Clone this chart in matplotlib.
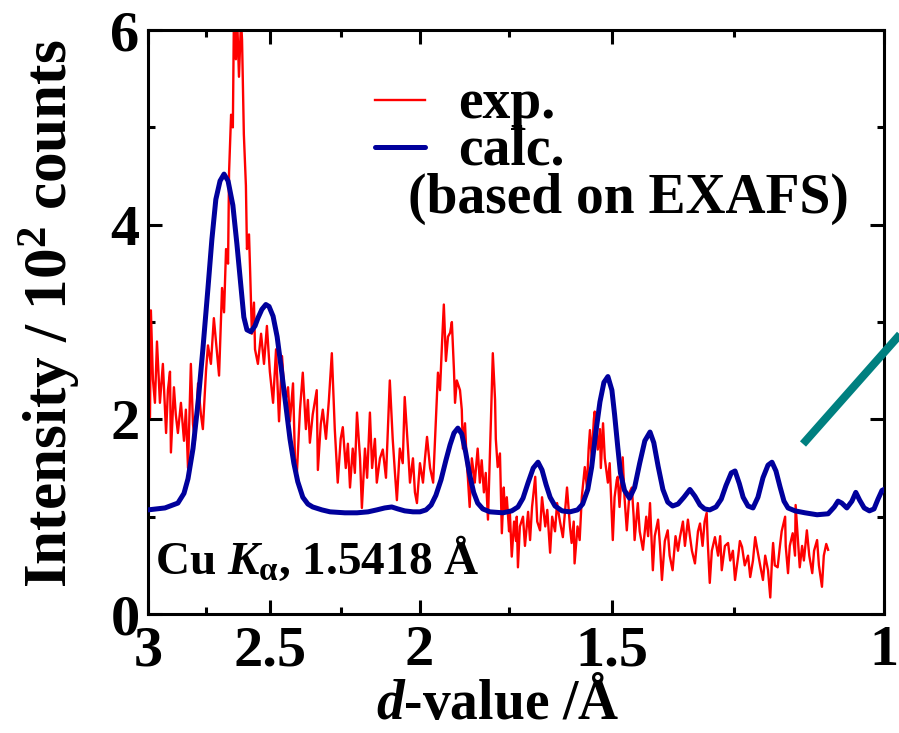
import matplotlib
matplotlib.use('Agg')
import matplotlib.pyplot as plt
from matplotlib.lines import Line2D
from matplotlib.ticker import FixedLocator, FixedFormatter, NullFormatter

# measured powder pattern, d / A vs intensity / 10^2 counts
exp_d = [
    3.000, 2.991, 2.987, 2.978, 2.969, 2.960, 2.947, 2.934, 2.920, 2.912,
    2.903, 2.899, 2.886, 2.878, 2.869, 2.856, 2.843, 2.835, 2.826, 2.814,
    2.805, 2.797, 2.784, 2.772, 2.764, 2.751, 2.743, 2.731, 2.719, 2.707,
    2.698, 2.686, 2.678, 2.670, 2.662, 2.658, 2.650, 2.643, 2.639, 2.631,
    2.627, 2.619, 2.611, 2.607, 2.600, 2.592, 2.588, 2.580, 2.576, 2.569,
    2.561, 2.557, 2.546, 2.534, 2.523, 2.512, 2.501, 2.489, 2.478, 2.467,
    2.456, 2.445, 2.434, 2.427,
    2.416, 2.409, 2.402, 2.391, 2.381, 2.370, 2.363, 2.356, 2.346, 2.332,
    2.328, 2.318, 2.311, 2.300, 2.290, 2.280, 2.270, 2.260, 2.250, 2.243,
    2.233, 2.226, 2.219, 2.210, 2.203, 2.196, 2.186, 2.180, 2.170, 2.163,
    2.154, 2.147, 2.138, 2.132, 2.122, 2.113, 2.103, 2.097, 2.091, 2.082,
    2.075, 2.069, 2.060, 2.051, 2.045, 2.035, 2.029, 2.020, 2.014, 2.008,
    1.999, 1.990, 1.984, 1.978, 1.969, 1.960, 1.955, 1.952, 1.946, 1.940,
    1.934, 1.929, 1.923, 1.917, 1.911, 1.906, 1.900, 1.897, 1.892, 1.883,
    1.878, 1.875, 1.869, 1.864, 1.861, 1.856, 1.850, 1.845, 1.842, 1.834,
    1.828, 1.823, 1.817, 1.812, 1.806, 1.801, 1.798, 1.795, 1.793, 1.787,
    1.785, 1.780, 1.774, 1.769, 1.764, 1.761, 1.756, 1.750, 1.748, 1.743,
    1.737, 1.732, 1.730, 1.727, 1.722, 1.714, 1.709, 1.701, 1.696, 1.691,
    1.683, 1.678, 1.671, 1.666, 1.658, 1.653, 1.646, 1.641, 1.634, 1.629,
    1.622, 1.615, 1.610, 1.605, 1.598, 1.594, 1.589, 1.587, 1.580, 1.575,
    1.570, 1.563, 1.558, 1.554, 1.551, 1.547, 1.542, 1.540, 1.535, 1.533,
    1.528, 1.526, 1.521, 1.517, 1.510, 1.506, 1.503, 1.499, 1.495, 1.490,
    1.488, 1.484, 1.477, 1.473, 1.468, 1.462, 1.457, 1.453, 1.451, 1.444,
    1.440, 1.433, 1.426, 1.422, 1.418, 1.412, 1.408, 1.401, 1.397, 1.393,
    1.387, 1.381, 1.377, 1.371, 1.365, 1.360, 1.356, 1.350, 1.346, 1.340,
    1.336, 1.332, 1.326, 1.320, 1.316, 1.311, 1.307, 1.303, 1.301, 1.297,
    1.293, 1.287, 1.281, 1.277, 1.274, 1.268, 1.262, 1.258, 1.253, 1.249,
    1.243, 1.240, 1.236, 1.231, 1.225, 1.221, 1.216, 1.212,
    1.209, 1.203, 1.198, 1.194, 1.189, 1.185, 1.182, 1.180, 1.177, 1.172,
    1.168, 1.165, 1.159, 1.158, 1.154, 1.151, 1.146, 1.142, 1.141, 1.137,
    1.134, 1.130, 1.127, 1.122, 1.118, 1.113, 1.110, 1.105, 1.102, 1.097,
    1.094, 1.090, 1.087,
]
exp_int = [
    3.38, 2.02, 3.12, 2.41, 2.17, 2.80, 2.17, 2.57, 1.86, 2.30,
    2.49, 1.66, 2.33, 2.05, 1.86, 2.17, 1.78, 2.10, 1.50, 2.57,
    1.95, 1.78, 2.37, 2.05, 1.90, 2.50, 2.76, 2.57, 3.04, 2.70,
    2.45, 3.35, 3.10, 3.75, 3.60, 4.54, 5.13, 5.00, 6.10, 5.70,
    6.20, 5.52, 6.10, 5.90, 4.93, 4.40, 3.75, 3.90, 3.55, 2.88,
    3.20, 2.72, 2.57, 2.88, 2.57, 2.96, 2.49, 2.17, 2.72, 1.98,
    2.65, 2.17, 2.33, 1.98,
    2.37, 1.60, 1.45, 2.10, 2.48, 1.90, 2.20, 1.76, 2.05, 2.30,
    1.48, 1.95, 2.10, 1.80, 2.20, 2.68, 1.90, 1.35, 1.80, 1.92,
    1.50, 1.75, 1.30, 1.70, 1.45, 2.07, 1.60, 1.09, 1.70, 1.40,
    2.07, 1.50, 1.80, 1.35, 1.60, 1.69, 1.40, 1.90, 2.40, 1.80,
    1.45, 1.17, 1.70, 1.55, 2.23, 1.70, 1.35, 1.60, 1.25, 1.14,
    1.55, 1.35, 1.60, 1.82, 1.50, 1.35, 1.75, 2.00, 2.48, 2.30,
    2.80, 3.18, 2.60, 2.85, 2.89, 3.00, 2.50, 2.17, 2.40, 2.30,
    2.10, 1.70, 1.96, 1.55, 1.40, 1.10, 1.60, 1.45, 1.35, 1.70,
    1.35, 1.58, 1.25, 1.45, 0.97, 1.60, 2.00, 2.40, 2.68, 2.20,
    1.80, 1.51, 1.65, 0.83, 1.30, 1.05, 1.20, 0.85, 1.05, 0.59,
    0.95, 0.75, 1.00, 0.48, 0.90, 1.00, 0.70, 1.05, 0.76, 1.10,
    1.41, 0.95, 0.86, 1.20, 0.90, 1.07, 0.63, 1.00, 0.85, 1.14,
    0.95, 0.79, 1.05, 1.30, 0.90, 0.73, 0.95, 0.52, 0.90, 0.76,
    1.20, 1.51, 1.30, 1.70, 1.89, 1.60, 2.00, 2.08, 1.80, 1.69,
    1.90, 1.50, 1.96, 1.60, 1.35, 1.55, 1.20, 0.76, 1.20, 1.38,
    1.41, 1.10, 1.61, 1.20, 0.86, 1.25, 1.30, 1.00, 0.76, 1.14,
    0.85, 0.66, 1.00, 0.80, 1.14, 0.45, 0.80, 0.97, 0.70, 0.35,
    0.75, 0.86, 0.60, 0.45, 0.80, 0.65, 0.79, 0.95, 0.70, 0.97,
    0.80, 0.65, 0.52, 0.85, 0.93, 0.70, 0.95, 1.04, 0.75, 0.32,
    0.65, 0.79, 0.60, 0.80, 0.45, 0.70, 0.73, 0.55, 0.65, 0.35,
    0.60, 0.75, 0.69, 0.50, 0.60, 0.38, 0.55, 0.79,
    0.69, 0.50, 0.35, 0.60, 0.45, 0.17, 0.55, 0.73, 0.50, 0.48,
    0.70, 0.85, 1.00, 0.70, 0.42, 0.70, 0.83, 0.60, 1.12, 0.75,
    0.48, 0.70, 0.55, 0.86, 0.60, 0.42, 0.65, 0.76, 0.50, 0.28,
    0.60, 0.72, 0.66,
]

# pattern calculated from the EXAFS structure model
calc_d = [
    3.000, 2.925, 2.869, 2.843, 2.826, 2.805, 2.784, 2.764, 2.743, 2.727,
    2.711, 2.694, 2.678, 2.662, 2.643, 2.627, 2.611, 2.600, 2.588, 2.573,
    2.557, 2.546, 2.531, 2.516, 2.504, 2.489, 2.474, 2.460, 2.441, 2.427,
    2.413, 2.399, 2.381, 2.363, 2.346, 2.314, 2.286, 2.236, 2.196, 2.160,
    2.132, 2.107, 2.085, 2.066, 2.045, 2.020, 1.999, 1.981, 1.966, 1.952,
    1.937, 1.923, 1.911, 1.900, 1.889, 1.878, 1.867, 1.856, 1.845, 1.834,
    1.820, 1.801, 1.766, 1.743, 1.727, 1.714, 1.701, 1.688, 1.676, 1.666,
    1.656, 1.646, 1.634, 1.617, 1.598, 1.580, 1.568, 1.556, 1.547, 1.538,
    1.528, 1.519, 1.510, 1.501, 1.495, 1.488, 1.482, 1.473, 1.462, 1.451,
    1.440, 1.429, 1.418, 1.410, 1.401, 1.391, 1.381, 1.371, 1.360, 1.348,
    1.336, 1.326, 1.316, 1.307, 1.297, 1.285, 1.275, 1.266, 1.256, 1.249,
    1.241, 1.234, 1.225, 1.216, 1.207, 1.198, 1.189, 1.182, 1.175, 1.168,
    1.161, 1.154, 1.142, 1.125, 1.105, 1.087, 1.077, 1.071, 1.065, 1.057,
    1.049, 1.043, 1.037, 1.030, 1.022, 1.015, 1.009, 1.003, 1.000,
]
calc_int = [
    1.07, 1.09, 1.14, 1.24, 1.39, 1.70, 2.17, 2.72, 3.35, 3.85,
    4.26, 4.45, 4.52, 4.45, 4.20, 3.80, 3.35, 3.05, 2.92, 2.90,
    2.96, 3.04, 3.13, 3.18, 3.16, 3.06, 2.85, 2.55, 2.12, 1.80,
    1.55, 1.36, 1.20, 1.13, 1.10, 1.07, 1.05, 1.04, 1.04, 1.05,
    1.07, 1.09, 1.10, 1.08, 1.06, 1.05, 1.05, 1.07, 1.12, 1.22,
    1.38, 1.58, 1.74, 1.86, 1.91, 1.85, 1.66, 1.43, 1.25, 1.14,
    1.08, 1.05, 1.04, 1.06, 1.10, 1.19, 1.35, 1.50, 1.56, 1.48,
    1.33, 1.20, 1.11, 1.06, 1.05, 1.07, 1.13, 1.28, 1.51, 1.85,
    2.18, 2.38, 2.44, 2.30, 2.05, 1.72, 1.45, 1.27, 1.19, 1.30,
    1.55, 1.78, 1.87, 1.76, 1.52, 1.28, 1.15, 1.11, 1.13, 1.20,
    1.28, 1.21, 1.12, 1.08, 1.07, 1.10, 1.18, 1.32, 1.45, 1.47,
    1.34, 1.20, 1.11, 1.09, 1.20, 1.40, 1.53, 1.56, 1.47, 1.31,
    1.16, 1.09, 1.06, 1.04, 1.02, 1.03, 1.10, 1.16, 1.14, 1.09,
    1.16, 1.25, 1.17, 1.09, 1.06, 1.08, 1.18, 1.27, 1.28,
]

d_major = [3, 2.5, 2, 1.5, 1]
d_major_labels = ['3', '2.5', '2', '1.5', '1']
d_minor = [2.75, 2.25, 1.75, 1.25]
int_major = [0, 2, 4, 6]
int_minor = [1, 3, 5]


def setup_fonts():
    plt.rcParams['font.family'] = ['Liberation Serif', 'DejaVu Serif']
    plt.rcParams['font.weight'] = 'bold'
    plt.rcParams['axes.labelweight'] = 'bold'
    plt.rcParams['mathtext.fontset'] = 'custom'
    plt.rcParams['mathtext.rm'] = 'Liberation Serif:bold'
    plt.rcParams['mathtext.it'] = 'Liberation Serif:italic:bold'
    plt.rcParams['mathtext.bf'] = 'Liberation Serif:bold'


def draw():
    assert len(exp_d) == len(exp_int)
    assert len(calc_d) == len(calc_int)

    fig = plt.figure(figsize=(8.99, 7.33), dpi=100)
    ax = fig.add_axes([0.1646, 0.1623, 0.8187, 0.7967])

    ax.plot(exp_d, exp_int, color='#ff0000', linewidth=1.7, zorder=2)
    ax.plot(calc_d, calc_int, color='#00009c', linewidth=3.6,
            solid_joinstyle='round', zorder=3)

    # d axis runs from 3 down to 1 on a log scale
    ax.set_xscale('log')
    ax.set_xlim(3, 1)
    ax.set_ylim(0, 6)
    ax.xaxis.set_major_locator(FixedLocator(d_major))
    ax.xaxis.set_major_formatter(FixedFormatter(d_major_labels))
    ax.xaxis.set_minor_locator(FixedLocator(d_minor))
    ax.xaxis.set_minor_formatter(NullFormatter())
    ax.yaxis.set_major_locator(FixedLocator(int_major))
    ax.yaxis.set_minor_locator(FixedLocator(int_minor))

    for sp in ax.spines.values():
        sp.set_linewidth(2.2)
    ax.tick_params(which='both', direction='in', top=True, right=True, width=2.2)
    ax.tick_params(which='major', length=10, labelsize=42)
    ax.tick_params(which='minor', length=5)
    ax.tick_params(axis='x', which='major', pad=8)
    ax.tick_params(axis='y', which='major', pad=6)

    ax.set_xlabel('$d$-value /Å', fontsize=40)
    ax.xaxis.set_label_coords(0.4755, -0.111)
    ax.set_ylabel('Intensity / 10$^2$ counts', fontsize=44)
    ax.yaxis.set_label_coords(-0.09, 0.515)

    # hand drawn legend
    fig.add_artist(Line2D([0.4171, 0.4727], [0.8636, 0.8636],
                          color='#ff0000', linewidth=1.7))
    fig.add_artist(Line2D([0.4171, 0.4727], [0.7995, 0.7995],
                          color='#00009c', linewidth=3.6, solid_capstyle='round'))
    fig.text(0.5095, 0.839, 'exp.', fontsize=40, va='baseline')
    fig.text(0.5095, 0.7749, 'calc.', fontsize=40, va='baseline')
    fig.text(0.4538, 0.7094, '(based on EXAFS)', fontsize=40, va='baseline')

    fig.text(0.1724, 0.2169, r'Cu $K_{\mathrm{α}}$, 1.5418 Å', fontsize=34,
             va='baseline')

    # teal stroke running off the right edge
    fig.add_artist(Line2D([0.8932, 1.0234], [0.3943, 0.5746],
                          color='#008080', linewidth=5.8, solid_capstyle='butt'))

    fig.savefig('out.png', dpi=100)


if __name__ == "__main__":
    setup_fonts()
    draw()
